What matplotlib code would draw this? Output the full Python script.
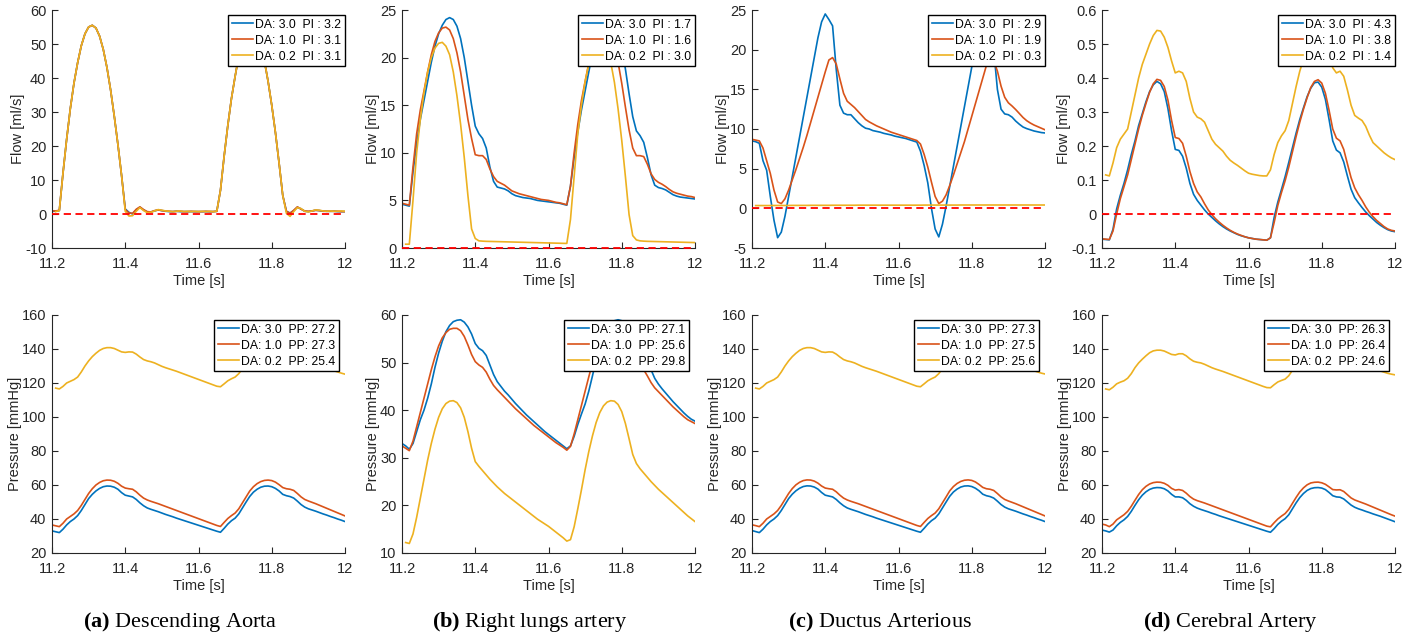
import numpy as np
import matplotlib.pyplot as plt

plt.rcParams['font.family'] = ['Liberation Sans', 'DejaVu Sans']
plt.rcParams['mathtext.fontset'] = 'custom'
plt.rcParams['mathtext.rm'] = 'Liberation Serif'
plt.rcParams['mathtext.bf'] = 'Liberation Serif:bold'

nan = np.nan
# time axis, one sample every 10 ms
t = np.round(np.arange(11.20, 12.005, 0.01), 2)

# ---- (a) descending aorta ----
aorta_flow_30 = [
    0.8, 0.8, 1.0, 12.0, 22.0, 31.0, 38.5, 44.5, 49.5, 53.0,
    55.0, 55.5, 54.7, 52.3, 48.4, 43.1, 36.5, 28.8, 20.4, 11.3,
    1.5, 0.5, 0.0, 1.2, 2.0, 1.2, 0.6, 0.6, 0.9, 1.2,
    1.0, 0.8, 0.7, 0.7, 0.8, 0.7, 0.7, 0.7, 0.7, 0.7,
    0.7, 0.7, 0.7, 0.7, 0.7, 0.8, 7.0, 17.0, 26.0, 34.0,
    40.5, 46.5, 51.0, 54.0, 55.4, 55.2, 53.5, 50.0, 45.0, 39.0,
    32.0, 24.0, 15.0, 5.5, 0.8, 0.3, 1.0, 2.0, 1.5, 0.8,
    0.7, 0.9, 1.1, 1.0, 0.8, 0.8, 0.8, 0.8, 0.7, 0.7,
    0.7]
aorta_flow_10 = [
    0.9, 0.9, 1.1, 12.0, 22.0, 31.0, 38.5, 44.5, 49.5, 53.0,
    55.0, 55.5, 54.7, 52.3, 48.4, 43.1, 36.5, 28.8, 20.4, 11.3,
    1.3, 0.3, 0.2, 1.4, 2.1, 1.3, 0.7, 0.6, 1.0, 1.2,
    1.0, 0.9, 0.8, 0.7, 0.8, 0.8, 0.7, 0.7, 0.8, 0.7,
    0.7, 0.7, 0.8, 0.7, 0.7, 0.8, 7.0, 17.0, 26.0, 34.0,
    40.5, 46.5, 51.0, 54.0, 55.4, 55.2, 53.5, 50.0, 45.0, 39.0,
    32.0, 24.0, 15.0, 5.5, 0.8, 0.2, 1.1, 2.1, 1.4, 0.9,
    0.8, 0.9, 1.1, 1.0, 0.9, 0.8, 0.8, 0.8, 0.8, 0.7,
    0.7]
aorta_flow_02 = [
    nan, 0.7, 1.0, 12.0, 22.0, 31.0, 38.5, 44.5, 49.5, 53.0,
    55.0, 55.5, 54.7, 52.3, 48.4, 43.1, 36.5, 28.8, 20.4, 11.3,
    0.8, -0.6, -0.5, 0.8, 1.9, 1.0, 0.4, 0.5, 0.9, 1.3,
    1.1, 0.9, 0.8, 0.7, 0.8, 0.9, 0.7, 0.8, 0.7, 0.8,
    0.7, 0.8, 0.7, 0.8, 0.7, 0.8, 7.0, 17.0, 26.0, 34.0,
    40.5, 46.5, 51.0, 54.0, 55.4, 55.2, 53.5, 50.0, 45.0, 39.0,
    32.0, 24.0, 15.0, 5.5, 0.2, -0.7, 0.7, 1.9, 1.6, 0.8,
    0.6, 0.9, 1.2, 1.1, 0.9, 0.8, 0.9, 0.8, 0.8, 0.9,
    0.8]
aorta_pres_30 = [
    33.0, 32.5, 32.0, 34.0, 36.5, 38.5, 40.0, 42.0, 45.0, 48.5,
    52.0, 54.5, 56.5, 58.0, 59.0, 59.4, 59.3, 58.7, 57.5, 55.5,
    54.0, 53.5, 53.0, 51.5, 49.5, 47.8, 46.5, 45.7, 45.0, 44.3,
    43.5, 42.7, 42.0, 41.3, 40.5, 39.8, 39.1, 38.4, 37.7, 37.0,
    36.3, 35.6, 34.9, 34.2, 33.5, 32.8, 32.2, 34.5, 37.0, 39.0,
    40.5, 43.0, 46.5, 50.0, 53.3, 55.8, 57.5, 58.7, 59.3, 59.4,
    59.0, 58.0, 56.5, 54.5, 53.7, 53.2, 52.3, 50.5, 48.5, 47.0,
    46.0, 45.3, 44.6, 43.8, 43.0, 42.3, 41.5, 40.8, 40.0, 39.3,
    38.5]
aorta_pres_10 = [
    36.5, 36.0, 35.5, 37.5, 40.0, 41.5, 43.0, 45.0, 48.0, 51.5,
    55.0, 57.8, 60.0, 61.5, 62.5, 62.9, 62.8, 62.2, 61.0, 59.3,
    58.2, 57.8, 57.5, 56.0, 54.0, 52.3, 51.2, 50.4, 49.7, 49.0,
    48.2, 47.4, 46.6, 45.8, 45.0, 44.2, 43.4, 42.6, 41.8, 41.0,
    40.2, 39.4, 38.6, 37.8, 37.0, 36.2, 35.6, 38.0, 40.3, 42.0,
    43.5, 46.0, 49.5, 53.0, 56.5, 59.0, 60.8, 62.0, 62.7, 62.9,
    62.6, 61.7, 60.2, 58.5, 57.8, 57.5, 56.8, 55.0, 53.0, 51.5,
    50.6, 49.8, 49.0, 48.1, 47.2, 46.3, 45.4, 44.5, 43.6, 42.7,
    41.8]
aorta_pres_02 = [
    nan, 117.0, 116.5, 118.0, 120.0, 121.0, 122.0, 123.5, 126.5, 130.0,
    133.0, 135.5, 137.5, 139.2, 140.3, 140.8, 140.8, 140.3, 139.3, 138.3,
    138.0, 138.3, 138.2, 137.0, 135.3, 133.8, 133.0, 132.5, 131.8, 130.8,
    129.8, 129.0, 128.3, 127.6, 126.9, 126.1, 125.3, 124.5, 123.7, 122.9,
    122.1, 121.3, 120.5, 119.7, 118.9, 118.1, 117.8, 119.5, 121.3, 122.5,
    123.5, 125.5, 128.5, 132.0, 134.5, 136.7, 138.5, 139.9, 140.6, 140.9,
    140.6, 139.8, 138.7, 138.1, 138.2, 138.3, 137.7, 136.0, 134.4, 133.3,
    132.7, 132.0, 131.2, 130.2, 129.4, 128.6, 127.9, 127.2, 126.5, 125.8,
    125.2]

# ---- (b) right lungs artery ----
lung_flow_30 = [
    4.6, 4.5, 4.4, 8.0, 11.0, 13.5, 15.5, 17.5, 19.5, 21.2,
    22.5, 23.4, 24.0, 24.2, 24.0, 23.3, 22.0, 20.0, 17.5, 15.0,
    12.8, 12.0, 11.5, 10.5, 8.5, 7.0, 6.4, 6.3, 6.2, 6.0,
    5.7, 5.5, 5.4, 5.3, 5.25, 5.2, 5.1, 5.0, 4.95, 4.9,
    4.85, 4.8, 4.75, 4.7, 4.6, 4.5, 6.5, 9.5, 12.2, 14.5,
    16.5, 18.5, 20.4, 21.9, 23.0, 23.7, 24.1, 24.1, 23.7, 22.7,
    21.0, 18.8, 16.2, 13.8, 12.3, 11.8, 11.1, 9.5, 7.7, 6.6,
    6.35, 6.25, 6.1, 5.85, 5.6, 5.45, 5.35, 5.3, 5.25, 5.2,
    5.15]
lung_flow_10 = [
    4.7, 4.6, 4.5, 8.5, 12.0, 14.5, 16.5, 18.5, 20.3, 21.7,
    22.6, 23.1, 23.2, 22.9, 22.0, 20.5, 18.5, 16.0, 13.5, 11.5,
    9.8, 9.7, 9.7, 9.3, 8.3, 7.5, 7.0, 6.8, 6.6, 6.3,
    6.0, 5.85, 5.7, 5.6, 5.5, 5.4, 5.3, 5.2, 5.1, 5.05,
    5.0, 4.9, 4.8, 4.75, 4.65, 4.55, 6.5, 10.0, 13.0, 15.5,
    17.5, 19.4, 21.0, 22.2, 22.9, 23.2, 23.1, 22.5, 21.3, 19.5,
    17.3, 14.8, 12.4, 10.5, 9.7, 9.7, 9.6, 8.8, 7.8, 7.2,
    6.9, 6.7, 6.45, 6.15, 5.9, 5.75, 5.65, 5.55, 5.45, 5.4,
    5.3]
lung_flow_02 = [
    nan, 0.4, 0.4, 5.0, 10.0, 13.5, 16.3, 18.5, 20.0, 21.0,
    21.5, 21.6, 21.2, 20.3, 18.5, 16.0, 13.0, 9.5, 5.5, 2.0,
    1.0, 0.75, 0.72, 0.7, 0.69, 0.68, 0.67, 0.66, 0.65, 0.64,
    0.63, 0.62, 0.61, 0.6, 0.59, 0.58, 0.57, 0.56, 0.55, 0.54,
    0.53, 0.52, 0.51, 0.5, 0.49, 0.48, 3.0, 7.5, 12.0, 15.0,
    17.5, 19.3, 20.5, 21.3, 21.6, 21.5, 20.9, 19.5, 17.4, 14.6,
    11.3, 7.5, 3.5, 1.3, 0.85, 0.75, 0.72, 0.7, 0.69, 0.68,
    0.67, 0.66, 0.65, 0.64, 0.63, 0.62, 0.61, 0.6, 0.59, 0.58,
    0.57]
lung_pres_30 = [
    33.0, 32.5, 31.8, 33.0, 35.5, 38.0, 40.0, 42.5, 45.5, 49.0,
    52.0, 54.5, 56.5, 57.8, 58.6, 58.9, 59.0, 58.5, 57.5, 56.0,
    54.0, 53.0, 52.5, 51.5, 49.5, 47.5, 46.0, 45.0, 44.0, 43.2,
    42.3, 41.4, 40.6, 39.8, 39.0, 38.3, 37.6, 36.9, 36.2, 35.5,
    34.9, 34.3, 33.7, 33.1, 32.5, 31.9, 32.5, 34.5, 37.0, 39.2,
    41.3, 44.0, 47.2, 50.5, 53.3, 55.6, 57.2, 58.2, 58.8, 59.0,
    58.8, 58.1, 56.8, 55.0, 53.5, 52.8, 52.0, 50.5, 48.5, 46.7,
    45.5, 44.5, 43.6, 42.7, 41.8, 41.0, 40.2, 39.4, 38.7, 38.1,
    37.7]
lung_pres_10 = [
    32.5, 32.0, 31.5, 33.5, 36.5, 39.5, 42.5, 45.5, 48.5, 51.2,
    53.5, 55.2, 56.3, 57.0, 57.2, 57.2, 56.7, 55.5, 53.7, 51.7,
    50.2, 49.5, 49.0, 48.0, 46.5, 45.2, 44.3, 43.5, 42.7, 41.9,
    41.1, 40.3, 39.6, 38.9, 38.2, 37.5, 36.8, 36.2, 35.6, 35.0,
    34.4, 33.8, 33.2, 32.7, 32.2, 31.6, 32.4, 35.0, 38.0, 41.0,
    44.0, 47.0, 49.9, 52.4, 54.4, 55.8, 56.7, 57.1, 57.2, 57.0,
    56.2, 54.7, 52.8, 50.9, 49.8, 49.2, 48.5, 47.2, 45.8, 44.7,
    43.9, 43.1, 42.3, 41.5, 40.7, 40.0, 39.3, 38.6, 38.0, 37.6,
    37.2]
lung_pres_02 = [
    nan, 12.2, 12.0, 14.0, 17.5, 21.5, 25.5, 29.5, 33.0, 36.0,
    38.5, 40.3, 41.4, 41.9, 42.0, 41.6, 40.5, 38.5, 35.5, 32.0,
    29.2, 28.2, 27.3, 26.4, 25.5, 24.7, 23.9, 23.2, 22.5, 21.9,
    21.3, 20.7, 20.1, 19.5, 18.9, 18.3, 17.7, 17.1, 16.6, 16.1,
    15.6, 15.0, 14.4, 13.8, 13.2, 12.5, 12.8, 15.5, 19.3, 23.3,
    27.5, 31.3, 34.6, 37.4, 39.5, 40.9, 41.7, 42.0, 41.9, 41.2,
    39.7, 37.2, 34.0, 30.7, 28.8, 27.7, 26.8, 25.9, 25.0, 24.2,
    23.4, 22.7, 22.0, 21.3, 20.6, 19.9, 19.2, 18.5, 17.8, 17.2,
    16.6]

# ---- (c) ductus arterious ----
duct_flow_30 = [
    8.5, 8.4, 8.2, 6.0, 4.8, 1.5, -1.5, -3.7, -3.0, -1.0,
    1.5, 4.0, 6.5, 9.0, 11.5, 14.0, 16.5, 19.0, 21.5, 23.5,
    24.5, 23.8, 23.0, 17.5, 13.0, 12.0, 11.8, 11.8, 11.3, 10.8,
    10.4, 10.1, 10.0, 9.8, 9.7, 9.6, 9.45, 9.35, 9.25, 9.1,
    9.0, 8.9, 8.8, 8.65, 8.5, 8.35, 7.2, 5.4, 3.2, 0.0,
    -2.6, -3.6, -2.0, 0.3, 2.8, 5.3, 7.8, 10.3, 12.8, 15.3,
    17.8, 20.3, 22.5, 24.2, 24.1, 23.4, 20.0, 15.0, 12.5, 11.9,
    11.8, 11.5, 11.0, 10.6, 10.25, 10.05, 9.9, 9.75, 9.65, 9.55,
    9.5]
duct_flow_10 = [
    8.7, 8.6, 8.5, 7.6, 6.0, 4.4, 2.3, 0.8, 0.6, 1.2,
    2.3, 3.6, 4.9, 6.3, 7.7, 9.2, 10.8, 12.4, 14.0, 15.6,
    17.2, 18.7, 19.0, 18.2, 16.3, 14.5, 13.5, 13.1, 12.7, 12.2,
    11.7, 11.2, 10.9, 10.65, 10.4, 10.2, 10.0, 9.8, 9.6, 9.45,
    9.3, 9.15, 9.0, 8.85, 8.7, 8.55, 8.1, 6.8, 5.2, 3.3,
    1.5, 0.6, 0.9, 1.7, 2.9, 4.2, 5.6, 7.0, 8.4, 10.0,
    11.6, 13.2, 14.8, 16.4, 18.0, 18.9, 18.6, 17.3, 15.4, 14.0,
    13.3, 12.9, 12.45, 11.95, 11.45, 11.05, 10.75, 10.5, 10.3, 10.1,
    9.9]
duct_flow_02 = [
    nan, 0.35, 0.35, 0.35, 0.35, 0.35, 0.36, 0.36, 0.36, 0.36,
    0.36, 0.37, 0.37, 0.37, 0.37, 0.37, 0.38, 0.38, 0.38, 0.38,
    0.38, 0.38, 0.39, 0.39, 0.39, 0.39, 0.39, 0.39, 0.39, 0.4,
    0.4, 0.4, 0.4, 0.4, 0.4, 0.4, 0.4, 0.4, 0.4, 0.4,
    0.4, 0.4, 0.4, 0.4, 0.4, 0.4, 0.4, 0.41, 0.41, 0.41,
    0.41, 0.41, 0.41, 0.41, 0.41, 0.41, 0.41, 0.42, 0.42, 0.42,
    0.42, 0.42, 0.42, 0.42, 0.42, 0.42, 0.42, 0.42, 0.42, 0.42,
    0.42, 0.42, 0.42, 0.42, 0.42, 0.42, 0.42, 0.42, 0.42, 0.42,
    0.42]
duct_pres_30 = [
    33.2, 32.6, 32.0, 34.0, 36.5, 38.5, 40.0, 42.0, 45.0, 48.5,
    52.0, 54.6, 56.6, 58.1, 59.1, 59.5, 59.4, 58.8, 57.6, 55.6,
    54.0, 53.5, 53.0, 51.5, 49.5, 47.8, 46.5, 45.7, 45.0, 44.3,
    43.5, 42.7, 42.0, 41.3, 40.5, 39.8, 39.1, 38.4, 37.7, 37.0,
    36.3, 35.6, 34.9, 34.2, 33.5, 32.8, 32.2, 34.5, 37.0, 39.0,
    40.5, 43.0, 46.5, 50.0, 53.4, 55.9, 57.6, 58.8, 59.4, 59.5,
    59.1, 58.1, 56.6, 54.6, 53.7, 53.2, 52.3, 50.5, 48.5, 47.0,
    46.0, 45.3, 44.6, 43.8, 43.0, 42.3, 41.5, 40.8, 40.0, 39.3,
    38.5]
duct_pres_10 = [
    36.6, 36.1, 35.5, 37.5, 40.0, 41.5, 43.0, 45.0, 48.0, 51.5,
    55.0, 57.9, 60.1, 61.6, 62.6, 63.0, 62.9, 62.3, 61.1, 59.4,
    58.2, 57.8, 57.5, 56.0, 54.0, 52.3, 51.2, 50.4, 49.7, 49.0,
    48.2, 47.4, 46.6, 45.8, 45.0, 44.2, 43.4, 42.6, 41.8, 41.0,
    40.2, 39.4, 38.6, 37.8, 37.0, 36.2, 35.6, 38.0, 40.3, 42.0,
    43.5, 46.0, 49.5, 53.0, 56.6, 59.1, 60.9, 62.1, 62.8, 63.0,
    62.7, 61.8, 60.3, 58.6, 57.8, 57.5, 56.8, 55.0, 53.0, 51.5,
    50.6, 49.8, 49.0, 48.1, 47.2, 46.3, 45.4, 44.5, 43.6, 42.7,
    41.8]
duct_pres_02 = [
    nan, 117.0, 116.5, 118.0, 120.0, 121.0, 122.0, 123.5, 126.5, 130.0,
    133.0, 135.5, 137.5, 139.2, 140.3, 140.8, 140.8, 140.3, 139.3, 138.3,
    138.0, 138.3, 138.2, 137.0, 135.3, 133.8, 133.0, 132.5, 131.8, 130.8,
    129.8, 129.0, 128.3, 127.6, 126.9, 126.1, 125.3, 124.5, 123.7, 122.9,
    122.1, 121.3, 120.5, 119.7, 118.9, 118.1, 117.8, 119.5, 121.3, 122.5,
    123.5, 125.5, 128.5, 132.0, 134.5, 136.7, 138.5, 139.9, 140.6, 140.9,
    140.6, 139.8, 138.7, 138.1, 138.2, 138.3, 137.7, 136.0, 134.4, 133.3,
    132.7, 132.0, 131.2, 130.2, 129.4, 128.6, 127.9, 127.2, 126.5, 125.8,
    125.3]

# ---- (d) cerebral artery ----
cereb_flow_30 = [
    -0.074, -0.075, -0.076, -0.045, 0.015, 0.055, 0.09, 0.13, 0.175, 0.215,
    0.26, 0.295, 0.33, 0.36, 0.38, 0.39, 0.383, 0.36, 0.31, 0.245,
    0.19, 0.187, 0.17, 0.135, 0.09, 0.058, 0.04, 0.026, 0.012, 0.0,
    -0.01, -0.02, -0.029, -0.037, -0.044, -0.05, -0.055, -0.06, -0.064, -0.067,
    -0.07, -0.072, -0.074, -0.075, -0.076, -0.077, -0.07, -0.01, 0.035, 0.072,
    0.11, 0.152, 0.195, 0.238, 0.278, 0.312, 0.345, 0.37, 0.386, 0.388,
    0.373, 0.337, 0.278, 0.215, 0.188, 0.18, 0.153, 0.112, 0.073, 0.048,
    0.033, 0.019, 0.006, -0.005, -0.015, -0.025, -0.033, -0.04, -0.046, -0.05,
    -0.052]
cereb_flow_10 = [
    -0.073, -0.074, -0.075, -0.05, 0.0, 0.045, 0.08, 0.115, 0.16, 0.205,
    0.25, 0.29, 0.325, 0.358, 0.383, 0.396, 0.393, 0.375, 0.335, 0.275,
    0.225, 0.222, 0.208, 0.17, 0.125, 0.09, 0.065, 0.05, 0.03, 0.012,
    -0.002, -0.014, -0.024, -0.033, -0.041, -0.048, -0.054, -0.059, -0.063, -0.067,
    -0.07, -0.072, -0.074, -0.075, -0.076, -0.077, -0.07, -0.025, 0.025, 0.063,
    0.098, 0.138, 0.183, 0.228, 0.27, 0.308, 0.342, 0.372, 0.39, 0.395,
    0.385, 0.355, 0.305, 0.25, 0.223, 0.215, 0.19, 0.148, 0.107, 0.077,
    0.057, 0.04, 0.021, 0.005, -0.008, -0.019, -0.028, -0.037, -0.044, -0.048,
    -0.05]
cereb_flow_02 = [
    nan, 0.115, 0.112, 0.15, 0.195, 0.22, 0.235, 0.25, 0.3, 0.35,
    0.4, 0.44, 0.47, 0.5, 0.525, 0.54, 0.538, 0.52, 0.49, 0.45,
    0.415, 0.42, 0.415, 0.39, 0.34, 0.3, 0.285, 0.28, 0.27, 0.245,
    0.22, 0.205, 0.195, 0.185, 0.17, 0.158, 0.15, 0.143, 0.135, 0.127,
    0.12, 0.117, 0.115, 0.113, 0.112, 0.112, 0.13, 0.175, 0.21, 0.23,
    0.245, 0.275, 0.325, 0.375, 0.42, 0.455, 0.485, 0.513, 0.533, 0.54,
    0.53, 0.505, 0.47, 0.43, 0.415, 0.42, 0.405, 0.365, 0.32, 0.29,
    0.282, 0.275, 0.258, 0.232, 0.21, 0.2, 0.19, 0.18, 0.172, 0.165,
    0.16]
cereb_pres_30 = [
    33.5, 33.0, 32.3, 33.5, 36.0, 38.0, 39.5, 41.5, 44.5, 48.0,
    51.3, 54.0, 56.0, 57.4, 58.2, 58.5, 58.4, 57.8, 56.5, 54.5,
    53.0, 53.0, 52.5, 51.0, 49.0, 47.5, 46.4, 45.6, 44.9, 44.2,
    43.4, 42.7, 41.9, 41.2, 40.5, 39.8, 39.1, 38.4, 37.7, 37.0,
    36.3, 35.6, 34.9, 34.2, 33.5, 32.8, 32.2, 34.3, 36.8, 38.7,
    40.2, 42.5, 46.0, 49.5, 52.6, 55.0, 56.8, 57.9, 58.4, 58.5,
    58.2, 57.3, 55.6, 53.7, 53.0, 52.8, 51.8, 50.0, 48.2, 46.9,
    46.0, 45.3, 44.5, 43.8, 43.0, 42.3, 41.6, 40.8, 40.0, 39.2,
    38.4]
cereb_pres_10 = [
    37.0, 36.5, 35.5, 37.0, 39.5, 41.0, 42.5, 44.5, 47.5, 51.0,
    54.4, 57.2, 59.2, 60.6, 61.4, 61.7, 61.6, 61.0, 59.8, 58.0,
    57.0, 57.3, 56.8, 55.2, 53.2, 51.7, 50.8, 50.1, 49.4, 48.6,
    47.8, 47.0, 46.2, 45.4, 44.6, 43.8, 43.0, 42.2, 41.4, 40.6,
    39.8, 39.0, 38.2, 37.4, 36.6, 35.8, 35.4, 37.8, 40.0, 41.7,
    43.2, 45.7, 49.2, 52.7, 55.9, 58.3, 60.1, 61.2, 61.6, 61.7,
    61.3, 60.4, 58.9, 57.3, 57.1, 57.2, 56.2, 54.3, 52.4, 51.2,
    50.4, 49.6, 48.8, 47.9, 47.0, 46.1, 45.2, 44.3, 43.4, 42.5,
    41.7]
cereb_pres_02 = [
    nan, 116.5, 116.0, 117.5, 119.5, 120.5, 121.3, 122.8, 125.5, 129.0,
    131.8, 134.0, 136.0, 137.8, 138.9, 139.3, 139.3, 138.8, 137.8, 136.8,
    136.5, 137.2, 137.2, 136.0, 134.2, 132.8, 132.2, 131.8, 131.0, 130.0,
    129.0, 128.2, 127.5, 126.8, 126.0, 125.2, 124.4, 123.6, 122.8, 122.0,
    121.2, 120.4, 119.6, 118.8, 118.0, 117.3, 117.2, 119.0, 120.6, 121.5,
    122.3, 124.3, 127.5, 130.6, 133.0, 135.0, 136.9, 138.3, 139.1, 139.3,
    139.0, 138.3, 137.3, 136.6, 136.9, 137.3, 136.7, 135.1, 133.4, 132.5,
    132.0, 131.4, 130.5, 129.5, 128.6, 127.8, 127.1, 126.4, 125.7, 125.2,
    124.8]

da_labels = ['3.0', '1.0', '0.2']
flow_pi = [['3.2', '3.1', '3.1'], ['1.7', '1.6', '3.0'], ['2.9', '1.9', '0.3'], ['4.3', '3.8', '1.4']]
pres_pp = [['27.2', '27.3', '25.4'], ['27.1', '25.6', '29.8'], ['27.3', '27.5', '25.6'], ['26.3', '26.4', '24.6']]
captions = [('(a)', 'Descending Aorta'), ('(b)', 'Right lungs artery'),
            ('(c)', 'Ductus Arterious'), ('(d)', 'Cerebral Artery')]

flows = [
    (aorta_flow_30, aorta_flow_10, aorta_flow_02),
    (lung_flow_30, lung_flow_10, lung_flow_02),
    (duct_flow_30, duct_flow_10, duct_flow_02),
    (cereb_flow_30, cereb_flow_10, cereb_flow_02),
]
pressures = [
    (aorta_pres_30, aorta_pres_10, aorta_pres_02),
    (lung_pres_30, lung_pres_10, lung_pres_02),
    (duct_pres_30, duct_pres_10, duct_pres_02),
    (cereb_pres_30, cereb_pres_10, cereb_pres_02),
]
flow_lims = [(-10, 60, 10), (0, 25, 5), (-5, 25, 5), (-0.1, 0.6, 0.1)]
pres_lims = [(20, 160, 20), (10, 60, 10), (20, 160, 20), (20, 160, 20)]

colors = ['#0072BD', '#D95319', '#EDB120']
gray = '#262626'

W, H = 1408, 639
fig = plt.figure(figsize=(W / 100, H / 100), dpi=100)
col_left = [52, 402, 752, 1102]
row_top = [10, 315]
ax_w, ax_h = 293, 238

leg_kw = dict(loc='upper right', borderaxespad=0, fancybox=False, framealpha=1,
              edgecolor='black', fontsize=8.8, handlelength=1.7, handletextpad=0.2,
              borderpad=0.3, labelspacing=0.33)


def setup(ax, lims, ylabel):
    lo, hi, step = lims
    ax.set_xlim(11.2, 12)
    ax.set_ylim(lo, hi)
    xt = [11.2, 11.4, 11.6, 11.8, 12.0]
    ax.set_xticks(xt)
    ax.set_xticklabels([f'{v:g}' for v in xt])
    yt = np.round(np.arange(lo, hi + step / 2, step), 3)
    ax.set_yticks(yt)
    ax.set_yticklabels([f'{v:g}' for v in yt])
    for s in ['top', 'right']:
        ax.spines[s].set_visible(False)
    for s in ['left', 'bottom']:
        ax.spines[s].set_color(gray)
        ax.spines[s].set_linewidth(0.8)
    ax.tick_params(direction='in', length=4, width=0.8, colors=gray, labelsize=10.5)
    ax.tick_params(axis='x', pad=6.5)
    ax.tick_params(axis='y', pad=4)
    ax.set_xlabel('Time [s]', fontsize=10.5, color=gray, labelpad=2)
    ax.set_ylabel(ylabel, fontsize=10.5, color=gray, labelpad=0)


for c in range(4):
    x0 = col_left[c] / W
    # flow row
    ax = fig.add_axes([x0, 1 - (row_top[0] + ax_h) / H, ax_w / W, ax_h / H])
    for k in range(3):
        ax.plot(t, flows[c][k], color=colors[k], lw=1.2,
                label=f'DA: {da_labels[k]}  PI : {flow_pi[c][k]}')
    ax.axhline(0, color='red', lw=1.3, ls=(0, (4, 2.5)), clip_on=False, zorder=3)
    setup(ax, flow_lims[c], 'Flow [ml/s]')
    ax.legend(bbox_to_anchor=(1.0, 1 - 5 / ax_h), **leg_kw)

    # pressure row
    ax = fig.add_axes([x0, 1 - (row_top[1] + ax_h) / H, ax_w / W, ax_h / H])
    for k in range(3):
        ax.plot(t, pressures[c][k], color=colors[k], lw=1.2,
                label=f'DA: {da_labels[k]}  PP: {pres_pp[c][k]}')
    setup(ax, pres_lims[c], 'Pressure [mmHg]')
    ax.legend(bbox_to_anchor=(1 - 6 / ax_w, 1 - 5 / ax_h), **leg_kw)

    tag, name = captions[c]
    fig.text((col_left[c] + 128) / W, 1 - 622 / H, r'$\mathbf{' + tag + '}$ ' + name,
             ha='center', va='center', fontsize=16, family='Liberation Serif')

fig.savefig('out.png', dpi=100)
